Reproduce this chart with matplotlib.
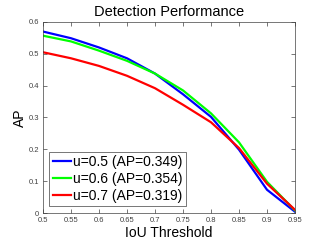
import matplotlib
matplotlib.use("Agg")
import matplotlib.pyplot as plt

plt.rcParams['font.family'] = ['Liberation Sans', 'DejaVu Sans']

iou = [0.5, 0.55, 0.6, 0.65, 0.7, 0.75, 0.8, 0.85, 0.9, 0.95]
ap_u05 = [0.570, 0.549, 0.520, 0.486, 0.438, 0.373, 0.302, 0.199, 0.073, 0.004]
ap_u06 = [0.557, 0.539, 0.510, 0.478, 0.438, 0.385, 0.313, 0.222, 0.098, 0.008]
ap_u07 = [0.505, 0.486, 0.462, 0.431, 0.392, 0.340, 0.285, 0.204, 0.092, 0.010]
labels = ['u=0.5 (AP=0.349)', 'u=0.6 (AP=0.354)', 'u=0.7 (AP=0.319)']
colors = ['#0000ff', '#00ff00', '#ff0000']

fig = plt.figure(figsize=(3.27, 2.45), dpi=100)
ax = fig.add_axes([43/327, 1 - 213/245, 252/327, 191/245])

for ys, lab, c in zip([ap_u05, ap_u06, ap_u07], labels, colors):
    ax.plot(iou, ys, color=c, lw=1.6, label=lab)

ax.set_xlim(0.5, 0.95)
ax.set_ylim(0, 0.6)
ax.set_xticks(iou)
ax.set_xticklabels(['0.5', '0.55', '0.6', '0.65', '0.7', '0.75', '0.8', '0.85', '0.9', '0.95'])
ax.set_yticks([0, 0.1, 0.2, 0.3, 0.4, 0.5, 0.6])
ax.set_yticklabels(['0', '0.1', '0.2', '0.3', '0.4', '0.5', '0.6'])
ax.tick_params(direction='in', top=True, right=True, labelsize=5.5, colors='#404040',
               length=3, width=0.5)
ax.tick_params(axis='x', pad=3)
ax.tick_params(axis='y', pad=3)
for s in ax.spines.values():
    s.set_color('#404040')
    s.set_linewidth(0.5)

ax.set_title('Detection Performance', fontsize=10.5, pad=4)
ax.set_xlabel('IoU Threshold', fontsize=10, labelpad=1)
ax.set_ylabel('AP', fontsize=10, labelpad=1)

leg = ax.legend(loc='lower left', fontsize=10, handlelength=1.3, handletextpad=0.15,
                borderpad=0.25, labelspacing=0.2, fancybox=False, framealpha=1,
                bbox_to_anchor=(0.024, 0.036), borderaxespad=0)
leg.get_frame().set_edgecolor('#404040')
leg.get_frame().set_linewidth(0.5)

fig.savefig('out.png', dpi=100)
